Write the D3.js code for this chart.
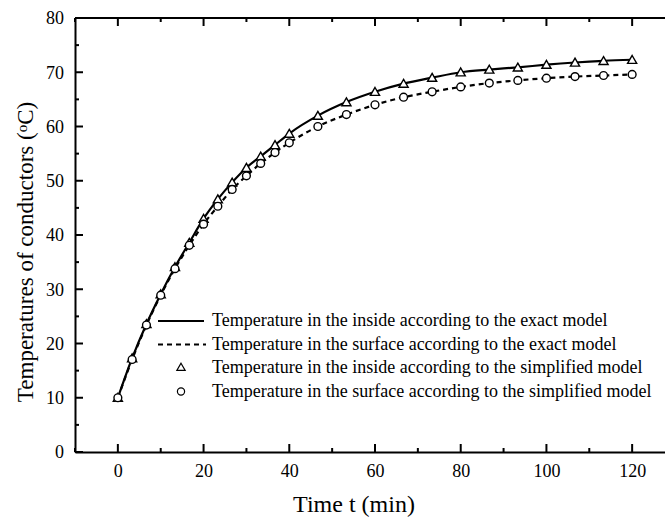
<!DOCTYPE html>
<html>
<head>
<meta charset="utf-8">
<script src="https://cdn.jsdelivr.net/npm/d3@7"></script>
<style>
  body { margin: 0; background: #fff; }
  svg { font-family: "Liberation Serif", "Times New Roman", serif; }
</style>
</head>
<body>
<svg id="chart" width="665" height="523"></svg>
<script>
// time points (min)
const times = [0, 3.33, 6.67, 10, 13.33, 16.67, 20, 23.33, 26.67, 30, 33.33, 36.67, 40,
  46.67, 53.33, 60, 66.67, 73.33, 80, 86.67, 93.33, 100, 106.67, 113.33, 120];
// inside temperature (exact model line + simplified markers)
const insideTemp = [10, 17.3, 23.6, 29.1, 34.1, 38.6, 43.0, 46.6, 49.7, 52.4, 54.5, 56.6, 58.7,
  62.0, 64.5, 66.4, 67.9, 69.0, 70.0, 70.5, 70.9, 71.4, 71.8, 72.1, 72.3];
// surface temperature
const surfaceTemp = [10, 17.05, 23.4, 28.9, 33.8, 38.1, 42.0, 45.3, 48.4, 50.9, 53.2, 55.2, 57.0,
  60.0, 62.2, 64.0, 65.4, 66.4, 67.3, 68.0, 68.5, 68.9, 69.2, 69.4, 69.6];

const xTicks = [0, 20, 40, 60, 80, 100, 120];
const yTicks = [0, 10, 20, 30, 40, 50, 60, 70, 80];
const legendLabels = [
  "Temperature in the inside according to the exact model",
  "Temperature in the surface according to the exact model",
  "Temperature in the inside according to the simplified model",
  "Temperature in the surface according to the simplified model"
];

const svg = d3.select("#chart");
const margin = { left: 75, top: 18, bottom: 452 };
const plotRight = 675;

const x = d3.scaleLinear().domain([-10, 130]).range([margin.left, plotRight]);
const y = d3.scaleLinear().domain([0, 80]).range([margin.bottom, margin.top]);

const insidePts = times.map((t, i) => [t, insideTemp[i]]);
const surfacePts = times.map((t, i) => [t, surfaceTemp[i]]);

// axes: labels from d3, ticks drawn inward below
const bottomAxis = d3.axisBottom(x).tickValues(xTicks).tickSize(0).tickPadding(12).tickFormat(d3.format("d"));
const gx = svg.append("g").attr("transform", `translate(0,${margin.bottom})`).call(bottomAxis);
gx.select(".domain").attr("stroke-width", 2);
gx.selectAll("text").attr("font-size", 18).attr("font-family", "Liberation Serif").attr("fill", "#000");

const leftAxis = d3.axisLeft(y).tickValues(yTicks).tickSize(0).tickPadding(11).tickFormat(d3.format("d"));
const gy = svg.append("g").attr("transform", `translate(${margin.left},0)`).call(leftAxis);
gy.select(".domain").attr("stroke-width", 2);
gy.selectAll("text").attr("font-size", 18).attr("font-family", "Liberation Serif").attr("fill", "#000");

// top border
svg.append("line")
  .attr("x1", margin.left).attr("x2", plotRight)
  .attr("y1", margin.top).attr("y2", margin.top)
  .attr("stroke", "#000").attr("stroke-width", 2);

const tickG = svg.append("g").attr("stroke", "#000").attr("stroke-width", 2);
d3.range(-10, 131, 10).forEach(v => {
  const len = v % 20 === 0 ? 8 : 4;
  tickG.append("line").attr("x1", x(v)).attr("x2", x(v))
    .attr("y1", margin.bottom).attr("y2", margin.bottom - len);
  tickG.append("line").attr("x1", x(v)).attr("x2", x(v))
    .attr("y1", margin.top).attr("y2", margin.top + len);
});
d3.range(0, 81, 5).forEach(v => {
  const len = v % 10 === 0 ? 8 : 4;
  tickG.append("line").attr("x1", margin.left).attr("x2", margin.left + len)
    .attr("y1", y(v)).attr("y2", y(v));
});

// exact model lines
const line = d3.line().x(d => x(d[0])).y(d => y(d[1])).curve(d3.curveMonotoneX);
svg.append("path").datum(insidePts).attr("d", line)
  .attr("fill", "none").attr("stroke", "#000").attr("stroke-width", 2.2);
svg.append("path").datum(surfacePts).attr("d", line)
  .attr("fill", "none").attr("stroke", "#000").attr("stroke-width", 2.2)
  .attr("stroke-dasharray", "5,4");

// simplified model markers
const tri = d3.symbol().type(d3.symbolTriangle).size(36);
svg.append("g").selectAll("path").data(insidePts).enter().append("path")
  .attr("d", tri)
  .attr("transform", d => `translate(${x(d[0])},${y(d[1]) + 1})`)
  .attr("fill", "#fff").attr("stroke", "#000").attr("stroke-width", 1.4);
svg.append("g").selectAll("circle").data(surfacePts).enter().append("circle")
  .attr("cx", d => x(d[0])).attr("cy", d => y(d[1])).attr("r", 3.9)
  .attr("fill", "#fff").attr("stroke", "#000").attr("stroke-width", 1.4);

// legend
const legend = svg.append("g");
const rowY = [321, 344.5, 368, 391.5];
legendLabels.forEach((lab, i) => {
  const ry = rowY[i];
  if (i === 0) {
    legend.append("line").attr("x1", 158).attr("x2", 204).attr("y1", ry).attr("y2", ry)
      .attr("stroke", "#000").attr("stroke-width", 2);
  } else if (i === 1) {
    legend.append("line").attr("x1", 158).attr("x2", 206).attr("y1", ry).attr("y2", ry)
      .attr("stroke", "#000").attr("stroke-width", 2).attr("stroke-dasharray", "5,4");
  } else if (i === 2) {
    legend.append("path").attr("d", d3.symbol().type(d3.symbolTriangle).size(30))
      .attr("transform", `translate(181,${ry})`)
      .attr("fill", "#fff").attr("stroke", "#000").attr("stroke-width", 1.2);
  } else {
    legend.append("circle").attr("cx", 181).attr("cy", ry).attr("r", 3.6)
      .attr("fill", "#fff").attr("stroke", "#000").attr("stroke-width", 1.2);
  }
  legend.append("text").attr("x", 212).attr("y", ry + 5)
    .attr("font-size", 18).attr("fill", "#000").text(lab);
});

// axis titles
svg.append("text").attr("x", 354).attr("y", 512).attr("text-anchor", "middle")
  .attr("font-size", 24).text("Time t (min)");
const yt = svg.append("text")
  .attr("transform", "translate(33,252) rotate(-90)")
  .attr("text-anchor", "middle").attr("font-size", 23);
yt.append("tspan").text("Temperatures of conductors (");
yt.append("tspan").attr("font-size", 15).attr("dy", -6).text("o");
yt.append("tspan").attr("dy", 6).text("C)");
</script>
</body>
</html>
